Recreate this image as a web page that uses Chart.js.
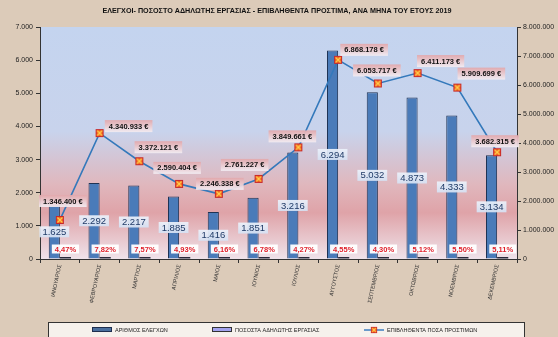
<!DOCTYPE html>
<html>
<head>
<meta charset="utf-8">
<script src="https://cdn.jsdelivr.net/npm/chart.js@4.4.0/dist/chart.umd.min.js"></script>
<style>
  html, body { margin: 0; padding: 0; background: #dccbb9; }
  #wrap { width: 558px; height: 337px; }
</style>
</head>
<body>
<div id="wrap"><canvas id="chart" width="558" height="337"></canvas></div>
<script>
// ---- data ----
const months = ['ΙΑΝΟΥΑΡΙΟΣ', 'ΦΕΒΡΟΥΑΡΙΟΣ', 'ΜΑΡΤΙΟΣ', 'ΑΠΡΙΛΙΟΣ', 'ΜΑΙΟΣ', 'ΙΟΥΝΙΟΣ',
  'ΙΟΥΛΙΟΣ', 'ΑΥΓΟΥΣΤΟΣ', 'ΣΕΠΤΕΜΒΡΙΟΣ', 'ΟΚΤΩΒΡΙΟΣ', 'ΝΟΕΜΒΡΙΟΣ', 'ΔΕΚΕΜΒΡΙΟΣ'];
const checks = [1625, 2292, 2217, 1885, 1416, 1851, 3216, 6294, 5032, 4873, 4333, 3134];
const undeclaredPct = [4.47, 7.82, 7.57, 4.93, 6.16, 6.78, 4.27, 4.55, 4.30, 5.12, 5.50, 5.11];
const fines = [1346400, 4340933, 3372121, 2590404, 2246338, 2761227, 3849661, 6868178, 6053717, 6411173, 5909699, 3682315];
const leftMax = 7000, leftStep = 1000;
const rightMax = 8000000, rightStep = 1000000;

const title = 'ΕΛΕΓΧΟΙ- ΠΟΣΟΣΤΟ ΑΔΗΛΩΤΗΣ ΕΡΓΑΣΙΑΣ - ΕΠΙΒΛΗΘΕΝΤΑ ΠΡΟΣΤΙΜΑ, ΑΝΑ ΜΗΝΑ ΤΟΥ ΕΤΟΥΣ 2019';
const seriesNames = ['ΑΡΙΘΜΟΣ ΕΛΕΓΧΩΝ', 'ΠΟΣΟΣΤΑ ΑΔΗΛΩΤΗΣ ΕΡΓΑΣΙΑΣ', 'ΕΠΙΒΛΗΘΕΝΤΑ ΠΟΣΑ ΠΡΟΣΤΙΜΩΝ'];

// where each fine label sits relative to its marker (px)
const fineLabelShift = [[3, -19], [29, -7], [19, -14], [-2, -16], [1, -10], [-14, -14],
  [-6, -11], [26, -10], [-1, -13], [23, -12], [24, -14], [-2, -11]];

const NARROW = "'Liberation Sans Narrow', 'Liberation Sans', sans-serif";

function dots(v) {
  return String(Math.round(v)).replace(/\B(?=(\d{3})+(?!\d))/g, '.');
}
function pctText(v) {
  return v.toFixed(2).replace('.', ',') + '%';
}

// marker: orange square with a cross
function makeMarker() {
  const c = document.createElement('canvas');
  c.width = 10; c.height = 10;
  const g = c.getContext('2d');
  g.fillStyle = '#f2601e';
  g.fillRect(1, 1, 8, 8);
  g.strokeStyle = '#c8282a';
  g.lineWidth = 1;
  g.strokeRect(1.5, 1.5, 7, 7);
  g.strokeStyle = '#ffd24d';
  g.lineWidth = 1.3;
  g.beginPath();
  g.moveTo(2.5, 2.5); g.lineTo(7.5, 7.5);
  g.moveTo(7.5, 2.5); g.lineTo(2.5, 7.5);
  g.stroke();
  return c;
}
const marker = makeMarker();

function box(ctx, text, cx, cy, opt) {
  ctx.font = opt.font;
  const w = ctx.measureText(text).width + opt.padX * 2;
  const h = opt.h;
  const x = cx - w / 2, y = cy - h / 2;
  if (opt.grad) {
    const gr = ctx.createLinearGradient(0, y, 0, y + h);
    gr.addColorStop(0, opt.grad[0]);
    gr.addColorStop(1, opt.grad[1]);
    ctx.fillStyle = gr;
  } else {
    ctx.fillStyle = opt.bg;
  }
  ctx.fillRect(x, y, w, h);
  ctx.fillStyle = opt.color;
  ctx.textAlign = 'center';
  ctx.textBaseline = 'middle';
  ctx.fillText(text, cx, cy + 0.5);
}

// background, plot gradient, title
const backdrop = {
  id: 'backdrop',
  beforeDraw(chart) {
    const ctx = chart.ctx, a = chart.chartArea;
    ctx.save();
    ctx.fillStyle = '#dccbb9';
    ctx.fillRect(0, 0, chart.width, chart.height);
    const gr = ctx.createLinearGradient(0, a.top, 0, a.bottom);
    gr.addColorStop(0, '#c4d4ef');
    gr.addColorStop(0.45, '#c8d3ec');
    gr.addColorStop(0.68, '#e0b7bd');
    gr.addColorStop(0.8, '#dfa3a8');
    gr.addColorStop(1, '#efe3ea');
    ctx.fillStyle = gr;
    ctx.fillRect(a.left, a.top, a.right - a.left, a.bottom - a.top);

    ctx.fillStyle = '#111';
    ctx.font = 'bold 7.2px ' + NARROW;
    ctx.textAlign = 'center';
    ctx.textBaseline = 'middle';
    ctx.fillText(title, 277, 11);
    ctx.restore();
  }
};

// value labels + legend
const labels = {
  id: 'labels',
  afterDatasetsDraw(chart) {
    const ctx = chart.ctx;
    ctx.save();
    const barMeta = chart.getDatasetMeta(0);
    const pctMeta = chart.getDatasetMeta(1);
    const lineMeta = chart.getDatasetMeta(2);
    const bottom = chart.chartArea.bottom;

    barMeta.data.forEach((el, i) => {
      box(ctx, dots(checks[i]), el.x, (el.y + el.base) / 2, {
        font: '9.5px ' + NARROW.replace("'Liberation Sans Narrow', ", ''), padX: 3, h: 11,
        grad: ['rgba(236,242,251,0.92)', 'rgba(214,226,244,0.92)'], color: '#1f3a66'
      });
    });
    pctMeta.data.forEach((el, i) => {
      box(ctx, pctText(undeclaredPct[i]), el.x, bottom - 10, {
        font: 'bold 7.5px ' + NARROW, padX: 3, h: 9, bg: 'rgba(255,255,255,0.95)', color: '#e0202a'
      });
    });
    lineMeta.data.forEach((el, i) => {
      const s = fineLabelShift[i];
      box(ctx, dots(fines[i]) + ' €', el.x + s[0], el.y + s[1], {
        font: 'bold 7.5px ' + NARROW, padX: 4, h: 12,
        grad: ['rgba(226,168,172,0.95)', 'rgba(242,236,242,0.95)'], color: '#111'
      });
    });

    // legend
    ctx.fillStyle = '#f6f1ec';
    ctx.fillRect(48, 322, 477, 20);
    ctx.strokeStyle = '#333';
    ctx.lineWidth = 1;
    ctx.strokeRect(48.5, 322.5, 476, 20);
    ctx.font = '5.5px ' + NARROW;
    ctx.textAlign = 'left';
    ctx.textBaseline = 'middle';
    const ly = 330;
    ctx.fillStyle = '#4a6f9e'; ctx.fillRect(92, ly - 2, 20, 4);
    ctx.strokeStyle = '#1f2f4f'; ctx.strokeRect(92.5, ly - 2.5, 19, 4);
    ctx.fillStyle = '#222'; ctx.fillText(seriesNames[0], 115, ly);
    ctx.fillStyle = '#a3a3ef'; ctx.fillRect(212, ly - 2, 20, 4);
    ctx.strokeStyle = '#333'; ctx.strokeRect(212.5, ly - 2.5, 19, 4);
    ctx.fillStyle = '#222'; ctx.fillText(seriesNames[1], 235, ly);
    ctx.strokeStyle = '#3b7dc0'; ctx.lineWidth = 1.5;
    ctx.beginPath(); ctx.moveTo(364, ly); ctx.lineTo(384, ly); ctx.stroke();
    ctx.drawImage(marker, 370, ly - 4, 8, 8);
    ctx.fillStyle = '#222'; ctx.fillText(seriesNames[2], 387, ly);
    ctx.restore();
  }
};

const ctx = document.getElementById('chart').getContext('2d');
new Chart(ctx, {
  data: {
    labels: months,
    datasets: [
      {
        type: 'bar', label: seriesNames[0], data: checks, yAxisID: 'y',
        backgroundColor: '#4a7bb9', borderColor: '#1f3354', borderWidth: 1,
        barPercentage: 1, categoryPercentage: 0.56, order: 2
      },
      {
        type: 'bar', label: seriesNames[1], data: undeclaredPct, yAxisID: 'y',
        backgroundColor: '#2a2a3a', borderColor: '#222', borderWidth: 0,
        minBarLength: 2, barPercentage: 1, categoryPercentage: 0.56, order: 2
      },
      {
        type: 'line', label: seriesNames[2], data: fines, yAxisID: 'y1',
        borderColor: '#3479bb', borderWidth: 1.6, tension: 0,
        pointStyle: marker, pointRadius: 5, order: 1
      }
    ]
  },
  plugins: [backdrop, labels],
  options: {
    responsive: false,
    animation: false,
    devicePixelRatio: 1,
    layout: { padding: { top: 27, left: 0, right: 0, bottom: 0 } },
    plugins: { legend: { display: false }, tooltip: { enabled: false }, title: { display: false } },
    scales: {
      x: {
        offset: true,
        grid: { drawOnChartArea: false, drawTicks: true, tickLength: 4, color: '#333', offset: true },
        border: { display: true, color: '#333', width: 1 },
        ticks: {
          color: '#333', font: { size: 5.5, family: NARROW },
          minRotation: 78, maxRotation: 78, padding: 1, autoSkip: false
        },
        afterFit(s) { s.height = 78; }
      },
      y: {
        position: 'left', min: 0, max: leftMax,
        grid: { drawOnChartArea: false, drawTicks: true, tickLength: 4, color: '#333' },
        border: { display: true, color: '#333', width: 1 },
        ticks: { stepSize: leftStep, color: '#222', font: { size: 7, family: NARROW }, padding: 3,
          callback: v => dots(v) },
        afterFit(s) { s.width = 40; }
      },
      y1: {
        position: 'right', min: 0, max: rightMax,
        grid: { drawOnChartArea: false, drawTicks: true, tickLength: 4, color: '#333' },
        border: { display: true, color: '#333', width: 1 },
        ticks: { stepSize: rightStep, color: '#222', font: { size: 7, family: NARROW }, padding: 2,
          callback: v => dots(v) },
        afterFit(s) { s.width = 41; }
      }
    }
  }
});
</script>
</body>
</html>
